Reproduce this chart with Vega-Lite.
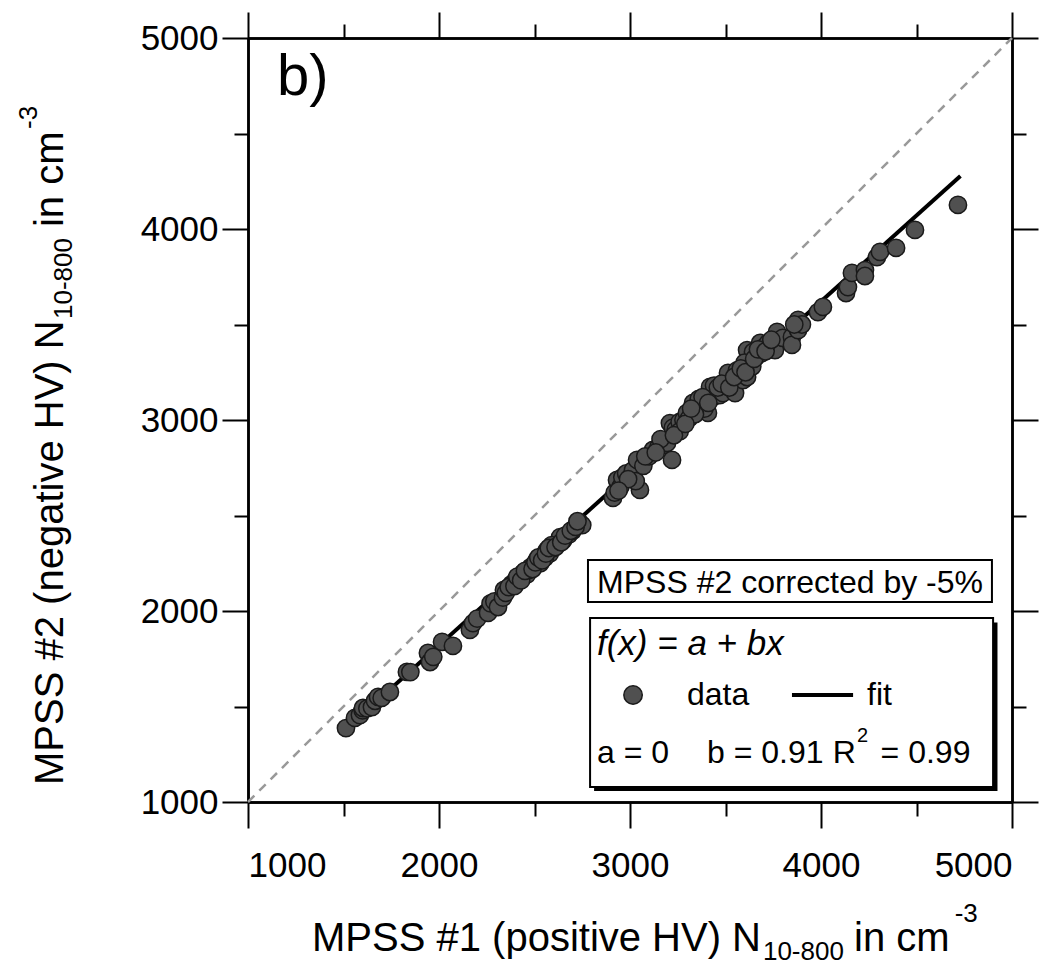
{
  "$schema": "https://vega.github.io/schema/vega-lite/v6.json",
  "width": 764,
  "height": 764,
  "autosize": {"type": "none"},
  "padding": {"left": 248, "top": 38, "right": 46, "bottom": 174},
  "background": "white",
  "config": {
    "view": {"stroke": null},
    "axis": {"domainColor": "black", "domainWidth": 2.5, "tickColor": "black", "tickWidth": 2, "labelFont": "Liberation Sans", "labelFontSize": 35, "labelColor": "black", "grid": false, "title": null, "format": "d"},
    "text": {"font": "Liberation Sans", "color": "black"}
  },
  "datasets": {
    "diag": [{"x": 1000, "y": 1000}, {"x": 5000, "y": 5000}],
    "fit": [{"x": 1500, "y": 1370}, {"x": 4730, "y": 4278}],
    "points": [
      {"x": 1513, "y": 1387}, {"x": 1560, "y": 1440}, {"x": 1586, "y": 1455}, {"x": 1600, "y": 1480}, {"x": 1602, "y": 1492},
      {"x": 1625, "y": 1490}, {"x": 1649, "y": 1497}, {"x": 1665, "y": 1530}, {"x": 1681, "y": 1550}, {"x": 1700, "y": 1545},
      {"x": 1743, "y": 1576}, {"x": 1832, "y": 1681}, {"x": 1850, "y": 1680}, {"x": 1942, "y": 1780}, {"x": 1953, "y": 1733},
      {"x": 1970, "y": 1760}, {"x": 2016, "y": 1838}, {"x": 2073, "y": 1817}, {"x": 2162, "y": 1901}, {"x": 2178, "y": 1937},
      {"x": 2200, "y": 1960}, {"x": 2257, "y": 1990}, {"x": 2270, "y": 2040}, {"x": 2290, "y": 2050}, {"x": 2309, "y": 2021},
      {"x": 2335, "y": 2070}, {"x": 2340, "y": 2110}, {"x": 2380, "y": 2140}, {"x": 2400, "y": 2160}, {"x": 2420, "y": 2170},
      {"x": 2440, "y": 2199}, {"x": 2460, "y": 2190}, {"x": 2480, "y": 2230}, {"x": 2500, "y": 2240}, {"x": 2513, "y": 2267},
      {"x": 2530, "y": 2250}, {"x": 2545, "y": 2290}, {"x": 2565, "y": 2319}, {"x": 2580, "y": 2300}, {"x": 2600, "y": 2330},
      {"x": 2620, "y": 2350}, {"x": 2634, "y": 2387}, {"x": 2650, "y": 2370}, {"x": 2680, "y": 2400}, {"x": 2700, "y": 2420},
      {"x": 2738, "y": 2461}, {"x": 2750, "y": 2450}, {"x": 2555, "y": 2280}, {"x": 2590, "y": 2345}, {"x": 2470, "y": 2215},
      {"x": 2350, "y": 2095}, {"x": 2365, "y": 2125}, {"x": 2395, "y": 2130}, {"x": 2410, "y": 2180}, {"x": 2430, "y": 2160},
      {"x": 2450, "y": 2210}, {"x": 2490, "y": 2220}, {"x": 2505, "y": 2255}, {"x": 2520, "y": 2280}, {"x": 2540, "y": 2265},
      {"x": 2560, "y": 2300}, {"x": 2575, "y": 2330}, {"x": 2610, "y": 2335}, {"x": 2640, "y": 2360}, {"x": 2660, "y": 2395},
      {"x": 2690, "y": 2420}, {"x": 2715, "y": 2440}, {"x": 2725, "y": 2470},
      {"x": 2911, "y": 2592}, {"x": 2920, "y": 2620}, {"x": 2932, "y": 2686}, {"x": 2950, "y": 2650}, {"x": 2960, "y": 2700},
      {"x": 2980, "y": 2720}, {"x": 3000, "y": 2700}, {"x": 3016, "y": 2738}, {"x": 3037, "y": 2791}, {"x": 3052, "y": 2634},
      {"x": 3030, "y": 2680}, {"x": 3070, "y": 2760}, {"x": 3100, "y": 2810}, {"x": 3120, "y": 2843}, {"x": 3150, "y": 2860},
      {"x": 3180, "y": 2870}, {"x": 3194, "y": 2880}, {"x": 3209, "y": 2984}, {"x": 3220, "y": 2791}, {"x": 3225, "y": 2960},
      {"x": 3240, "y": 2950}, {"x": 3260, "y": 2990}, {"x": 3280, "y": 3000}, {"x": 3298, "y": 3037}, {"x": 3310, "y": 3010},
      {"x": 3330, "y": 3089}, {"x": 3350, "y": 3060}, {"x": 3370, "y": 3080}, {"x": 3400, "y": 3110}, {"x": 3408, "y": 3037},
      {"x": 3419, "y": 3173}, {"x": 3435, "y": 3120}, {"x": 3450, "y": 3150}, {"x": 3470, "y": 3130}, {"x": 3487, "y": 3141},
      {"x": 3500, "y": 3180}, {"x": 3513, "y": 3246}, {"x": 3530, "y": 3200}, {"x": 3539, "y": 3209}, {"x": 3550, "y": 3141},
      {"x": 3570, "y": 3230}, {"x": 3592, "y": 3209}, {"x": 3613, "y": 3225}, {"x": 3613, "y": 3366}, {"x": 3625, "y": 3290},
      {"x": 3644, "y": 3356}, {"x": 3660, "y": 3330}, {"x": 3681, "y": 3403}, {"x": 3700, "y": 3380}, {"x": 3720, "y": 3400},
      {"x": 3759, "y": 3366}, {"x": 3770, "y": 3461}, {"x": 3800, "y": 3430}, {"x": 3848, "y": 3435}, {"x": 3848, "y": 3393},
      {"x": 3880, "y": 3524}, {"x": 3880, "y": 3471}, {"x": 3900, "y": 3500}, {"x": 3984, "y": 3565}, {"x": 4010, "y": 3592},
      {"x": 3360, "y": 3110}, {"x": 3390, "y": 3060}, {"x": 3440, "y": 3180}, {"x": 3560, "y": 3260}, {"x": 3600, "y": 3300},
      {"x": 3640, "y": 3280}, {"x": 3690, "y": 3350}, {"x": 3260, "y": 2940}, {"x": 3160, "y": 2900}, {"x": 3080, "y": 2810},
      {"x": 3340, "y": 3030}, {"x": 3380, "y": 3120}, {"x": 3410, "y": 3090}, {"x": 3460, "y": 3170}, {"x": 3480, "y": 3190},
      {"x": 3520, "y": 3170}, {"x": 3545, "y": 3225}, {"x": 3580, "y": 3270}, {"x": 3605, "y": 3250}, {"x": 3650, "y": 3320},
      {"x": 3670, "y": 3370}, {"x": 3710, "y": 3360}, {"x": 3740, "y": 3420}, {"x": 3230, "y": 2920}, {"x": 3290, "y": 2980},
      {"x": 3320, "y": 3060}, {"x": 3135, "y": 2830}, {"x": 2990, "y": 2690}, {"x": 2940, "y": 2630}, {"x": 3860, "y": 3500},
      {"x": 4131, "y": 3665}, {"x": 4141, "y": 3696}, {"x": 4162, "y": 3770}, {"x": 4230, "y": 3785}, {"x": 4230, "y": 3754},
      {"x": 4293, "y": 3853}, {"x": 4309, "y": 3880}, {"x": 4393, "y": 3901}, {"x": 4492, "y": 3995}, {"x": 4717, "y": 4126}
    ]
  },
  "resolve": {"axis": {"x": "independent", "y": "independent"}},
  "layer": [
    {
      "data": {"name": "diag"},
      "mark": {"type": "line", "color": "#999999", "strokeDash": [9, 7], "strokeWidth": 2.5},
      "encoding": {
        "x": {"field": "x", "type": "quantitative", "scale": {"domain": [1000, 5000], "nice": false, "zero": false},
              "axis": {"orient": "bottom", "values": [1000, 2000, 3000, 4000, 5000], "tickSize": 26, "labelPadding": 20, "labelFontSize": 35, "format": "d"}},
        "y": {"field": "y", "type": "quantitative", "scale": {"domain": [1000, 5000], "nice": false, "zero": false},
              "axis": {"orient": "left", "values": [1000, 2000, 3000, 4000, 5000], "tickSize": 26, "labelPadding": 4, "labelFontSize": 35, "format": "d"}}
      }
    },
    {
      "data": {"name": "fit"},
      "mark": {"type": "line", "color": "black", "strokeWidth": 4},
      "encoding": {
        "x": {"field": "x", "type": "quantitative", "axis": {"orient": "top", "values": [1000, 2000, 3000, 4000, 5000], "tickSize": 26, "labels": false}},
        "y": {"field": "y", "type": "quantitative", "axis": {"orient": "right", "values": [1000, 2000, 3000, 4000, 5000], "tickSize": 26, "labels": false}}
      }
    },
    {
      "data": {"name": "points"},
      "mark": {"type": "circle", "fill": "#505050", "stroke": "#1a1a1a", "strokeWidth": 1.5, "size": 300, "opacity": 1},
      "encoding": {
        "x": {"field": "x", "type": "quantitative", "axis": {"orient": "bottom", "values": [1500, 2500, 3500, 4500], "tickSize": 14, "labels": false}},
        "y": {"field": "y", "type": "quantitative", "axis": {"orient": "left", "values": [1500, 2500, 3500, 4500], "tickSize": 14, "labels": false}}
      }
    },
    {
      "data": {"values": [{}]},
      "mark": {"type": "rect", "fill": "white", "stroke": "black", "strokeWidth": 2},
      "encoding": {
        "x": {"datum": 2780, "type": "quantitative", "axis": {"orient": "top", "values": [1500, 2500, 3500, 4500], "tickSize": 14, "labels": false}},
        "x2": {"datum": 4895},
        "y": {"datum": 2267, "type": "quantitative", "axis": {"orient": "right", "values": [1500, 2500, 3500, 4500], "tickSize": 14, "labels": false}},
        "y2": {"datum": 2047}
      }
    },
    {
      "data": {"values": [{}]},
      "mark": {"type": "rect", "fill": "black"},
      "encoding": {
        "x": {"datum": 2812, "type": "quantitative", "axis": null}, "x2": {"datum": 4924},
        "y": {"datum": 1940, "type": "quantitative", "axis": null}, "y2": {"datum": 1058}
      }
    },
    {
      "data": {"values": [{}]},
      "mark": {"type": "rect", "fill": "white", "stroke": "black", "strokeWidth": 2},
      "encoding": {
        "x": {"datum": 2791, "type": "quantitative", "axis": null}, "x2": {"datum": 4901},
        "y": {"datum": 1963, "type": "quantitative", "axis": null}, "y2": {"datum": 1079}
      }
    },
    {
      "data": {"values": [{}]},
      "mark": {"type": "circle", "fill": "#505050", "stroke": "#1a1a1a", "strokeWidth": 1.5, "size": 340, "opacity": 1},
      "encoding": {
        "x": {"datum": 3016, "type": "quantitative", "axis": null},
        "y": {"datum": 1560, "type": "quantitative", "axis": null}
      }
    },
    {
      "data": {"values": [{}]},
      "mark": {"type": "rule", "color": "black", "strokeWidth": 4},
      "encoding": {
        "x": {"datum": 3848, "type": "quantitative", "axis": null}, "x2": {"datum": 4168},
        "y": {"datum": 1560, "type": "quantitative", "axis": null}
      }
    },
    {
      "data": {"values": [{}]},
      "mark": {"type": "text", "text": "MPSS #2 corrected by -5%", "align": "center", "baseline": "alphabetic", "fontSize": 32},
      "encoding": {"x": {"datum": 3838, "type": "quantitative", "axis": null}, "y": {"datum": 2094, "type": "quantitative", "axis": null}}
    },
    {
      "data": {"values": [{}]},
      "mark": {"type": "text", "text": "f(x) = a + bx", "align": "left", "baseline": "alphabetic", "fontSize": 35, "fontStyle": "italic"},
      "encoding": {"x": {"datum": 2827, "type": "quantitative", "axis": null}, "y": {"datum": 1770, "type": "quantitative", "axis": null}}
    },
    {
      "data": {"values": [{}]},
      "mark": {"type": "text", "text": "data", "align": "left", "baseline": "middle", "fontSize": 32},
      "encoding": {"x": {"datum": 3298, "type": "quantitative", "axis": null}, "y": {"datum": 1560, "type": "quantitative", "axis": null}}
    },
    {
      "data": {"values": [{}]},
      "mark": {"type": "text", "text": "fit", "align": "left", "baseline": "middle", "fontSize": 32},
      "encoding": {"x": {"datum": 4241, "type": "quantitative", "axis": null}, "y": {"datum": 1560, "type": "quantitative", "axis": null}}
    },
    {
      "data": {"values": [{}]},
      "mark": {"type": "text", "text": "a = 0", "align": "left", "baseline": "alphabetic", "fontSize": 32},
      "encoding": {"x": {"datum": 2827, "type": "quantitative", "axis": null}, "y": {"datum": 1204, "type": "quantitative", "axis": null}}
    },
    {
      "data": {"values": [{}]},
      "mark": {"type": "text", "text": "b = 0.91", "align": "left", "baseline": "alphabetic", "fontSize": 32},
      "encoding": {"x": {"datum": 3403, "type": "quantitative", "axis": null}, "y": {"datum": 1204, "type": "quantitative", "axis": null}}
    },
    {
      "data": {"values": [{}]},
      "mark": {"type": "text", "text": "R", "align": "left", "baseline": "alphabetic", "fontSize": 32},
      "encoding": {"x": {"datum": 4062, "type": "quantitative", "axis": null}, "y": {"datum": 1204, "type": "quantitative", "axis": null}}
    },
    {
      "data": {"values": [{}]},
      "mark": {"type": "text", "text": "2", "align": "left", "baseline": "alphabetic", "fontSize": 20},
      "encoding": {"x": {"datum": 4188, "type": "quantitative", "axis": null}, "y": {"datum": 1314, "type": "quantitative", "axis": null}}
    },
    {
      "data": {"values": [{}]},
      "mark": {"type": "text", "text": "= 0.99", "align": "left", "baseline": "alphabetic", "fontSize": 32},
      "encoding": {"x": {"datum": 4312, "type": "quantitative", "axis": null}, "y": {"datum": 1204, "type": "quantitative", "axis": null}}
    },
    {
      "data": {"values": [{}]},
      "mark": {"type": "text", "text": "b)", "align": "left", "baseline": "alphabetic", "fontSize": 58},
      "encoding": {"x": {"datum": 1152, "type": "quantitative", "axis": null}, "y": {"datum": 4702, "type": "quantitative", "axis": null}}
    },
    {
      "data": {"values": [{}]},
      "mark": {"type": "text", "text": "MPSS #1 (positive HV) N", "align": "left", "baseline": "alphabetic", "fontSize": 40},
      "encoding": {"x": {"datum": 1335, "type": "quantitative", "axis": null}, "y": {"datum": 220, "type": "quantitative", "axis": null}}
    },
    {
      "data": {"values": [{}]},
      "mark": {"type": "text", "text": "10-800", "align": "left", "baseline": "alphabetic", "fontSize": 26},
      "encoding": {"x": {"datum": 3696, "type": "quantitative", "axis": null}, "y": {"datum": 173, "type": "quantitative", "axis": null}}
    },
    {
      "data": {"values": [{}]},
      "mark": {"type": "text", "text": "in cm", "align": "left", "baseline": "alphabetic", "fontSize": 40},
      "encoding": {"x": {"datum": 4173, "type": "quantitative", "axis": null}, "y": {"datum": 220, "type": "quantitative", "axis": null}}
    },
    {
      "data": {"values": [{}]},
      "mark": {"type": "text", "text": "-3", "align": "left", "baseline": "alphabetic", "fontSize": 26},
      "encoding": {"x": {"datum": 4700, "type": "quantitative", "axis": null}, "y": {"datum": 372, "type": "quantitative", "axis": null}}
    },
    {
      "data": {"values": [{}]},
      "mark": {"type": "text", "text": "MPSS #2 (negative HV) N", "align": "left", "baseline": "alphabetic", "fontSize": 40, "angle": 270},
      "encoding": {"x": {"datum": 31, "type": "quantitative", "axis": null}, "y": {"datum": 1089, "type": "quantitative", "axis": null}}
    },
    {
      "data": {"values": [{}]},
      "mark": {"type": "text", "text": "10-800", "align": "left", "baseline": "alphabetic", "fontSize": 26, "angle": 270},
      "encoding": {"x": {"datum": 79, "type": "quantitative", "axis": null}, "y": {"datum": 3529, "type": "quantitative", "axis": null}}
    },
    {
      "data": {"values": [{}]},
      "mark": {"type": "text", "text": "in cm", "align": "left", "baseline": "alphabetic", "fontSize": 40, "angle": 270},
      "encoding": {"x": {"datum": 31, "type": "quantitative", "axis": null}, "y": {"datum": 4010, "type": "quantitative", "axis": null}}
    },
    {
      "data": {"values": [{}]},
      "mark": {"type": "text", "text": "-3", "align": "left", "baseline": "alphabetic", "fontSize": 26, "angle": 270},
      "encoding": {"x": {"datum": -105, "type": "quantitative", "axis": null}, "y": {"datum": 4524, "type": "quantitative", "axis": null}}
    }
  ]
}
